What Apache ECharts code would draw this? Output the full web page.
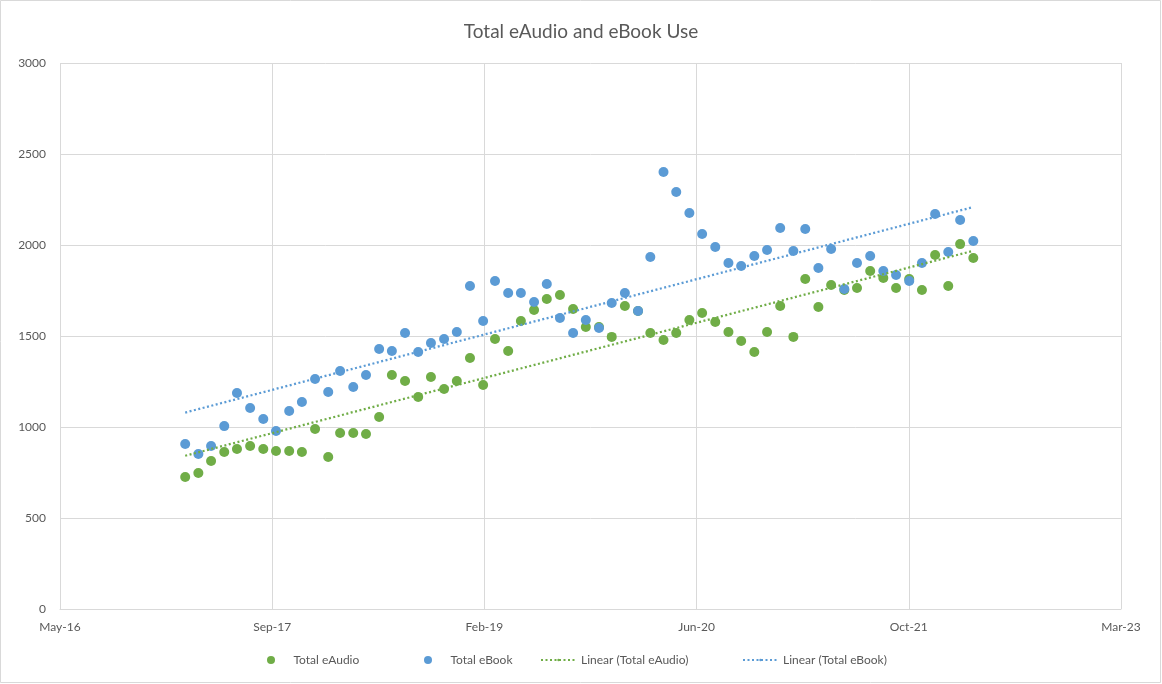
<!DOCTYPE html>
<html>
<head>
<meta charset="utf-8">
<title>Total eAudio and eBook Use</title>
<script src="https://cdn.jsdelivr.net/npm/echarts@6/dist/echarts.min.js"></script>
<style>
  html, body { margin: 0; padding: 0; background: #ffffff; }
  #chart { width: 1162px; height: 684px; }
</style>
</head>
<body>
<div id="chart"></div>
<script>
// Monthly usage, March 2017 to April 2022
const months = [
  '2017-03','2017-04','2017-05','2017-06','2017-07','2017-08','2017-09','2017-10','2017-11','2017-12',
  '2018-01','2018-02','2018-03','2018-04','2018-05','2018-06','2018-07','2018-08','2018-09','2018-10','2018-11','2018-12',
  '2019-01','2019-02','2019-03','2019-04','2019-05','2019-06','2019-07','2019-08','2019-09','2019-10','2019-11','2019-12',
  '2020-01','2020-02','2020-03','2020-04','2020-05','2020-06','2020-07','2020-08','2020-09','2020-10','2020-11','2020-12',
  '2021-01','2021-02','2021-03','2021-04','2021-05','2021-06','2021-07','2021-08','2021-09','2021-10','2021-11','2021-12',
  '2022-01','2022-02','2022-03','2022-04'
];

const eAudio = [
  725, 747, 813, 863, 879, 896, 879, 868, 868, 863,
  989, 835, 967, 967, 962, 1055, 1286, 1253, 1165, 1275,
  1209, 1253, 1379, 1231, 1484, 1418, 1582, 1643, 1703, 1725,
  1648, 1549, 1549, 1495, 1665, 1637, 1516, 1478, 1516, 1588,
  1626, 1577, 1522, 1473, 1412, 1522, 1665, 1495, 1813, 1659,
  1780, 1753, 1764, 1857, 1819, 1764, 1813, 1753, 1945, 1775,
  2005, 1929
];

const eBook = [
  907, 852, 896, 1005, 1187, 1104, 1044, 978, 1088, 1137,
  1264, 1192, 1308, 1220, 1286, 1429, 1418, 1516, 1412, 1462,
  1484, 1522, 1775, 1582, 1802, 1736, 1736, 1687, 1786, 1599,
  1516, 1588, 1544, 1681, 1736, 1637, 1934, 2401, 2291, 2176,
  2060, 1989, 1901, 1885, 1940, 1973, 2093, 1967, 2088, 1874,
  1978, 1758, 1901, 1940, 1857, 1835, 1802, 1901, 2170, 1962,
  2137, 2022
];

// Date axis expressed as spreadsheet day serials (day 0 = 1899-12-30)
const xAxisMin = 42500;
const xAxisMax = 45000;
const xAxisStep = 500;
const yAxisMin = 0;
const yAxisMax = 3000;
const yAxisStep = 500;

const MONTH_NAMES = ['Jan','Feb','Mar','Apr','May','Jun','Jul','Aug','Sep','Oct','Nov','Dec'];
const EPOCH = Date.UTC(1899, 11, 30);
const DAY = 86400000;

function monthToSerial(m) {
  const [y, mo] = m.split('-').map(Number);
  return Math.round((Date.UTC(y, mo - 1, 1) - EPOCH) / DAY);
}
function serialToLabel(v) {
  const d = new Date(EPOCH + v * DAY);
  return MONTH_NAMES[d.getUTCMonth()] + '-' + String(d.getUTCFullYear()).slice(2);
}

const xs = months.map(monthToSerial);

// Least-squares line over the plotted points, drawn across the data range
function linearFit(x, y) {
  const n = x.length;
  const mx = x.reduce((a, b) => a + b, 0) / n;
  const my = y.reduce((a, b) => a + b, 0) / n;
  let sxy = 0, sxx = 0;
  for (let i = 0; i < n; i++) {
    sxy += (x[i] - mx) * (y[i] - my);
    sxx += (x[i] - mx) * (x[i] - mx);
  }
  const slope = sxy / sxx;
  const icpt = my - slope * mx;
  return [[x[0], icpt + slope * x[0]], [x[n - 1], icpt + slope * x[n - 1]]];
}

const GREEN = '#70ad47';
const BLUE = '#5b9bd5';
const TEXT = '#595959';
const GRID = '#d9d9d9';
const FONT = 'Lato, "Liberation Sans", sans-serif';

const chart = echarts.init(document.getElementById('chart'), null, { renderer: 'canvas' });

function legendAt(name, left, isLine) {
  return {
    data: [name],
    left: left,
    top: 654,
    itemWidth: 35,
    itemHeight: isLine ? 3 : 8,
    itemGap: 0,
    padding: 0,
    textStyle: { color: TEXT, fontFamily: FONT, fontSize: 12, padding: [0, 0, 0, 0] },
    selectedMode: false
  };
}

chart.setOption({
  animation: false,
  backgroundColor: '#ffffff',
  title: {
    text: 'Total eAudio and eBook Use',
    left: 'center',
    top: 17,
    textStyle: { color: TEXT, fontFamily: FONT, fontSize: 19, fontWeight: 'normal' }
  },
  graphic: [{
    type: 'rect',
    shape: { x: 0.5, y: 0.5, width: 1160, height: 682 },
    style: { fill: 'none', stroke: GRID, lineWidth: 1 },
    silent: true
  }],
  legend: [
    legendAt('Total eAudio', 267, false),
    legendAt('Total eBook', 424, false),
    legendAt('Linear (Total eAudio)', 540, true),
    legendAt('Linear (Total eBook)', 742, true)
  ],
  grid: { left: 60, right: 41, top: 63, bottom: 75, containLabel: false },
  xAxis: {
    type: 'value',
    min: xAxisMin,
    max: xAxisMax,
    interval: xAxisStep,
    axisLine: { show: true, lineStyle: { color: GRID, width: 1 } },
    axisTick: { show: false },
    splitLine: { show: true, lineStyle: { color: GRID, width: 1 } },
    axisLabel: {
      formatter: serialToLabel,
      color: TEXT, fontFamily: FONT, fontSize: 12, margin: 12
    }
  },
  yAxis: {
    type: 'value',
    min: yAxisMin,
    max: yAxisMax,
    interval: yAxisStep,
    axisLine: { show: false },
    axisTick: { show: false },
    splitLine: { show: true, lineStyle: { color: GRID, width: 1 } },
    axisLabel: {
      formatter: (v) => String(v),
      color: TEXT, fontFamily: FONT, fontSize: 12, margin: 14
    }
  },
  series: [
    {
      name: 'Total eAudio',
      type: 'scatter',
      symbol: 'circle',
      symbolSize: 10,
      itemStyle: { color: GREEN, opacity: 1 },
      data: xs.map((x, i) => [x, eAudio[i]]),
      z: 2
    },
    {
      name: 'Total eBook',
      type: 'scatter',
      symbol: 'circle',
      symbolSize: 10,
      itemStyle: { color: BLUE, opacity: 1 },
      data: xs.map((x, i) => [x, eBook[i]]),
      z: 3
    },
    {
      name: 'Linear (Total eAudio)',
      type: 'line',
      symbol: 'none',
      showSymbol: false,
      itemStyle: { color: GREEN },
      lineStyle: { color: GREEN, width: 2.25, type: [2, 2.5] },
      data: linearFit(xs, eAudio),
      z: 4
    },
    {
      name: 'Linear (Total eBook)',
      type: 'line',
      symbol: 'none',
      showSymbol: false,
      itemStyle: { color: BLUE },
      lineStyle: { color: BLUE, width: 2.25, type: [2, 2.5] },
      data: linearFit(xs, eBook),
      z: 4
    }
  ]
});
</script>
</body>
</html>
